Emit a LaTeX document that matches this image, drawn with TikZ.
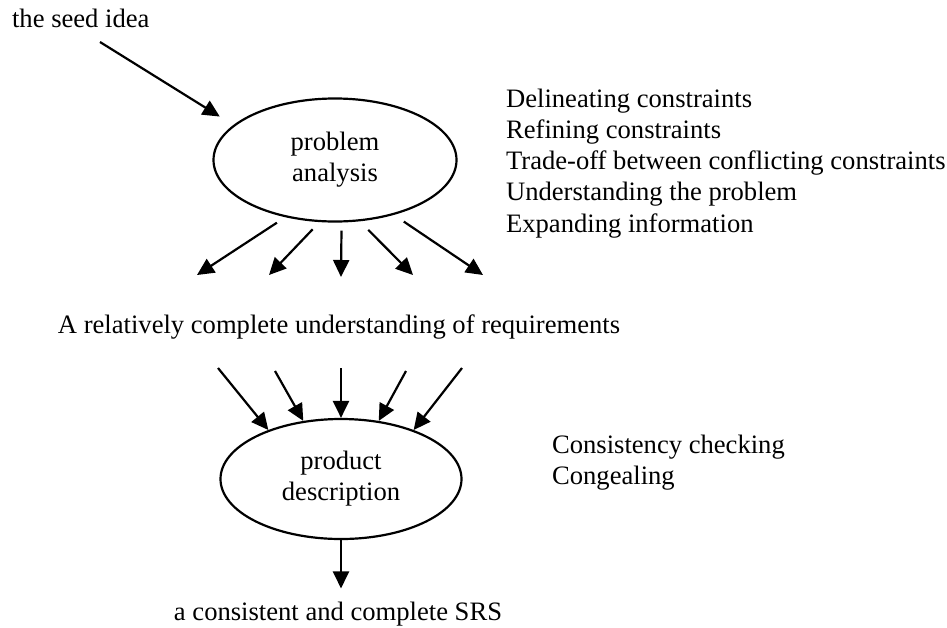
\documentclass[tikz,border=0pt]{standalone}
\usepackage{fontspec}
\setmainfont{Liberation Serif}
\usetikzlibrary{arrows.meta,shapes.geometric}

\begin{document}
\begin{tikzpicture}[
    x=0.5pt, y=-0.5pt,
    >={Triangle[length=8.5pt,width=8pt]},
    line width=1.1pt,
    stage/.style={ellipse, draw, inner sep=0pt, align=center},
    txt/.style={inner sep=0pt},
    notes/.style={inner sep=0pt, align=left, anchor=north west, font=\fontsize{13.3}{15.65}\selectfont},
    every node/.style={font=\fontsize{13.3}{15.5}\selectfont}
]
\useasboundingbox (0,0) rectangle (947,627);
\node[txt, anchor=base west] (seed) at (11,27) {the seed idea};
\node[stage, minimum width=121.5pt, minimum height=61.5pt] (analysis) at (335,160) {problem\\analysis};
\node[notes] (tasks) at (505,87.5) {Delineating constraints\\Refining constraints\\Trade-off between conflicting constraints\\Understanding the problem\\Expanding information};
\node[txt, anchor=base] (understand) at (339,333) {A relatively complete understanding of requirements};
\node[stage, minimum width=120.5pt, minimum height=60pt] (description) at (341,479) {product\\description};
\node[notes] (checks) at (551,434) {Consistency checking\\Congealing};
\node[txt, anchor=base] (srs) at (338,620) {a consistent and complete SRS};
% free ends of the arrows
\coordinate (s0) at (100,42);
\coordinate (o1) at (197,275);
\coordinate (o2) at (269,275);
\coordinate (o3) at (341,277);
\coordinate (o4) at (413,275);
\coordinate (o5) at (483,275);
\coordinate (i1) at (218,368);
\coordinate (i2) at (275,371);
\coordinate (i3) at (341,368);
\coordinate (i4) at (406,371);
\coordinate (i5) at (462,368);
\draw[->, shorten >=8pt] (s0) -- (analysis.161);
\draw[->, shorten <=5pt] (analysis.229) -- (o1);
\draw[->, shorten <=5pt] (analysis.256) -- (o2);
\draw[->, shorten <=4pt] (analysis.276) -- (o3);
\draw[->, shorten <=6pt] (analysis.292) -- (o4);
\draw[->, shorten <=6pt] (analysis.317) -- (o5);
\draw[->] (i1) -- (description.146);
\draw[->] (i2) -- (description.123);
\draw[->] (i3) -- (description.90);
\draw[->] (i4) -- (description.57);
\draw[->] (i5) -- (description.34);
\draw[->, shorten >=6pt] (description.south) -- (description.south |- srs.north);
\end{tikzpicture}
\end{document}
